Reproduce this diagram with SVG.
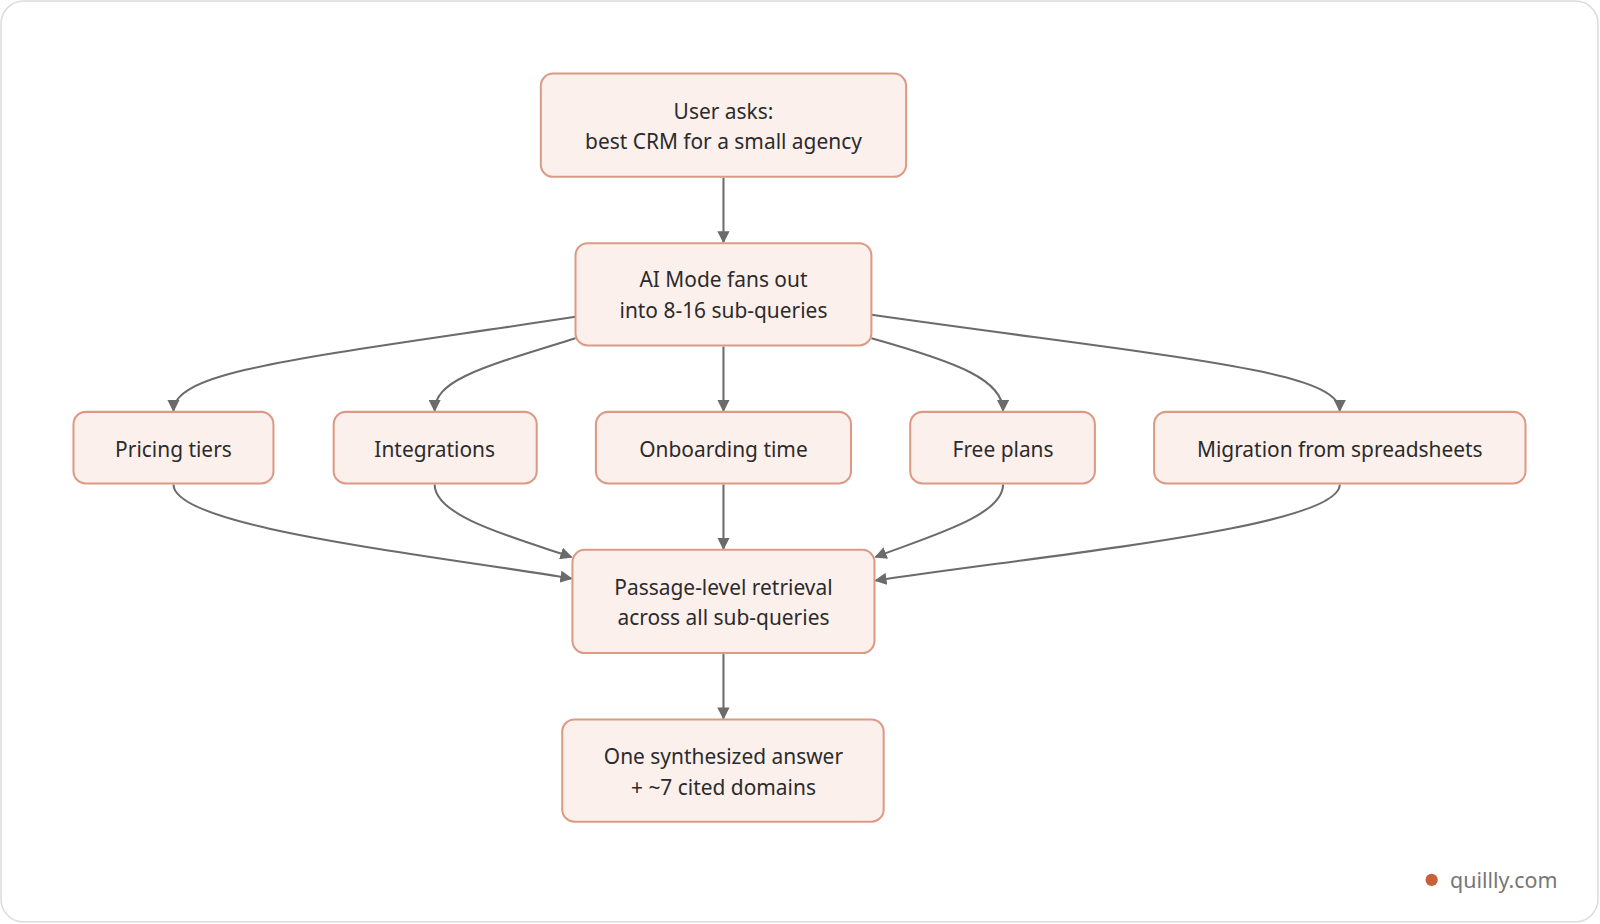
<svg xmlns="http://www.w3.org/2000/svg" width="1600" height="924" viewBox="0 0 1600 924">
<style>
.n rect{fill:#fbf0ec;stroke:#dc9a85;stroke-width:2}
.n text{font-family:"Noto Sans","Open Sans",sans-serif;font-size:20.5px;fill:#2b2b2b;text-anchor:middle}
.e path{fill:none;stroke:#6b6b6b;stroke-width:2;marker-end:url(#a)}
</style>
<defs><marker id="a" viewBox="0 0 10 10" refX="9" refY="5" markerWidth="6" markerHeight="6" orient="auto"><path d="M0,0L10,5L0,10z" fill="#6b6b6b"/></marker></defs>
<rect x="0" y="0" width="1600" height="924" fill="#fff"/>
<g transform="scale(1.0204,1.022)">
<rect x="1" y="1" width="1565" height="901" rx="22" fill="#fff" stroke="#dcdcdc" stroke-width="1.5"/>
<g class="e">
<path d="M709,174V237"/>
<path d="M564,310C300,350 170,362 170,402"/>
<path d="M564,331C470,360 426,372 426,402"/>
<path d="M709,339V402"/>
<path d="M854,331C940,355 983,372 983,402"/>
<path d="M854,308C1150,350 1313,362 1313,402"/>
<path d="M170,474C170,515 400,540 560,566"/>
<path d="M426,474C426,505 500,525 560,545"/>
<path d="M709,474V537"/>
<path d="M983,474C983,505 910,525 858,545"/>
<path d="M1313,474C1313,515 1050,540 858,568"/>
<path d="M709,640V703"/>
</g>
<g id="user" class="n"><rect x="530" y="72" width="358" height="101" rx="12"/><text x="709" y="116">User asks:</text><text x="709" y="146">best CRM for a small agency</text></g>
<g id="ai" class="n"><rect x="564" y="238" width="290" height="100" rx="12"/><text x="709" y="281">AI Mode fans out</text><text x="709" y="311">into 8-16 sub-queries</text></g>
<g id="pricing" class="n"><rect x="72" y="403" width="196" height="70" rx="12"/><text x="170" y="447">Pricing tiers</text></g>
<g id="integrations" class="n"><rect x="327" y="403" width="199" height="70" rx="12"/><text x="426" y="447">Integrations</text></g>
<g id="onboarding" class="n"><rect x="584" y="403" width="250" height="70" rx="12"/><text x="709" y="447">Onboarding time</text></g>
<g id="free" class="n"><rect x="892" y="403" width="181" height="70" rx="12"/><text x="983" y="447">Free plans</text></g>
<g id="migration" class="n"><rect x="1131" y="403" width="364" height="70" rx="12"/><text x="1313" y="447">Migration from spreadsheets</text></g>
<g id="passage" class="n"><rect x="561" y="538" width="296" height="101" rx="12"/><text x="709" y="582">Passage-level retrieval</text><text x="709" y="612">across all sub-queries</text></g>
<g id="answer" class="n"><rect x="551" y="704" width="315" height="100" rx="12"/><text x="709" y="748">One synthesized answer</text><text x="709" y="778">+ ~7 cited domains</text></g>
<circle cx="1403" cy="861" r="6" fill="#c8603a"/>
<text x="1421" y="869" font-family="Noto Sans,sans-serif" font-size="21" fill="#777">quillly.com</text>
</g>
</svg>
